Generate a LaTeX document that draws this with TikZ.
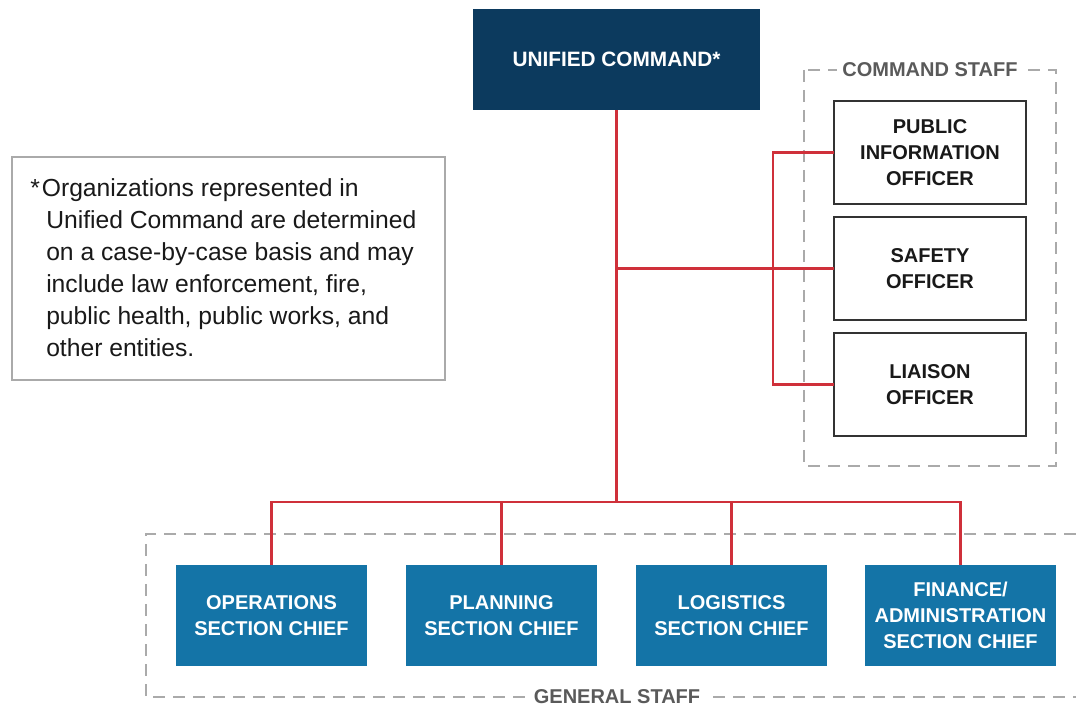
\documentclass[tikz,border=0pt]{standalone}
\usepackage{fontspec}
\setmainfont{Liberation Sans}
\definecolor{navy}{HTML}{0C3A5E}
\definecolor{secblue}{HTML}{1474A7}
\definecolor{linkred}{HTML}{CF303A}
\definecolor{dashgray}{HTML}{AAAAAA}
\definecolor{labgray}{HTML}{5A5A5A}
\begin{document}
\begin{tikzpicture}[x=0.75pt,y=-0.75pt,
  box/.style={rectangle,inner sep=0pt,outer sep=0pt,align=center,
    font=\fontsize{15pt}{19.5pt}\selectfont\bfseries},
  navybox/.style={box,fill=navy,text=white,minimum width=215.25pt,minimum height=75.75pt,
    font=\fontsize{15.6pt}{19.5pt}\selectfont\bfseries},
  staffbox/.style={box,draw=black!80,line width=1.2pt,fill=white,text=black!90,minimum width=144pt,minimum height=77.25pt},
  secbox/.style={box,fill=secblue,text=white,minimum width=143.25pt,minimum height=75.75pt},
  link/.style={draw=linkred,line width=1.7pt},
  group/.style={draw=dashgray,line width=1.1pt,dash pattern=on 9pt off 6pt},
  grouplabel/.style={fill=white,inner xsep=4pt,inner ysep=1pt,text=labgray,font=\fontsize{15pt}{16pt}\selectfont\bfseries},
  notebox/.style={draw=dashgray,line width=1.5pt,fill=white,minimum width=324.75pt,minimum height=167.25pt,inner sep=0pt}
]
\useasboundingbox (0,0) rectangle (1076,709);

% group frames
\draw[group] (804,70) rectangle (1056,466);
\node[grouplabel] (cslabel) at (930,70) {COMMAND STAFF};
\draw[group] (1076,534) -- (146,534) -- (146,697) -- (1076,697);
\node[grouplabel] (gslabel) at (617,697) {GENERAL STAFF};

% boxes
\node[navybox] (uc) at (616.5,59.5) {UNIFIED COMMAND*};
\node[staffbox] (pio) at (930,152.5) {PUBLIC\\INFORMATION\\OFFICER};
\node[staffbox] (safety) at (930,268.5) {SAFETY\\OFFICER};
\node[staffbox] (liaison) at (930,384.5) {LIAISON\\OFFICER};
\node[secbox] (ops) at (271.5,615.5) {OPERATIONS\\SECTION CHIEF};
\node[secbox] (plan) at (501.5,615.5) {PLANNING\\SECTION CHIEF};
\node[secbox] (log) at (731.5,615.5) {LOGISTICS\\SECTION CHIEF};
\node[secbox] (fin) at (960.5,615.5) {FINANCE/\\ADMINISTRATION\\SECTION CHIEF};

% note
\node[notebox] (note) at (228.5,268.5) {};
\node[anchor=north west,align=left,inner sep=0pt,text=black!90,
  font=\fontsize{18.5pt}{24pt}\selectfont] (notetext) at (30,178)
  {*\hspace{1.5pt}Organizations represented in\\
   \hspace*{12pt}Unified Command are determined\\
   \hspace*{12pt}on a case-by-case basis and may\\
   \hspace*{12pt}include law enforcement, fire,\\
   \hspace*{12pt}public health, public works, and\\
   \hspace*{12pt}other entities.};

% connectors
\coordinate (ybot) at (0,502);
\coordinate (xv) at (773,0);
\coordinate (jc) at (uc.south |- safety.west);
\coordinate (jb) at (uc.south |- ybot);
\coordinate (vt) at (xv |- pio.west);
\coordinate (vb) at (xv |- liaison.west);
\draw[link] (uc.south) -- (jb);
\draw[link] (jc) -- (safety.west);
\draw[link] (pio.west) -- (vt) -- (vb) -- (liaison.west);
\draw[link] (ops.north) |- (jb) -| (fin.north);
\draw[link] (plan.north) -- (plan.north |- jb);
\draw[link] (log.north) -- (log.north |- jb);
\end{tikzpicture}
\end{document}
